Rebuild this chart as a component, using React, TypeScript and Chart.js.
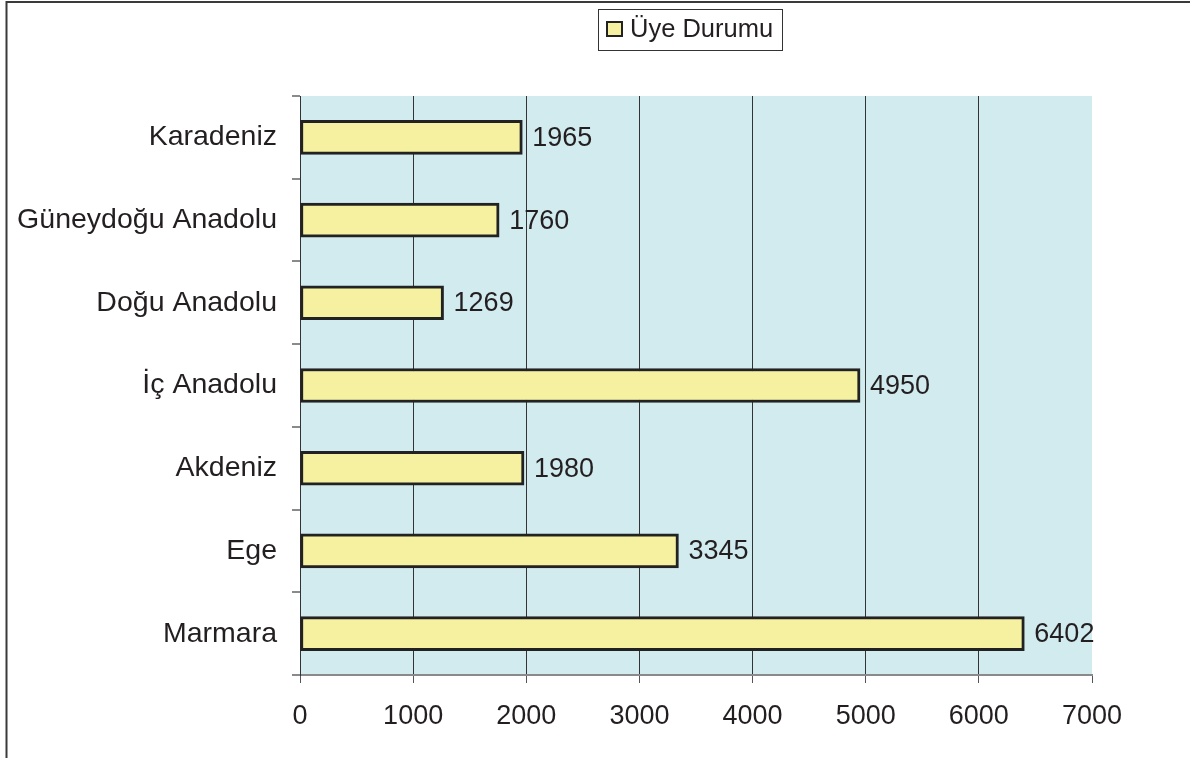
import React, { useEffect, useRef } from "react";
import { Chart, registerables } from "chart.js";

Chart.register(...registerables);

const categories = [
  "Karadeniz",
  "Güneydoğu Anadolu",
  "Doğu Anadolu",
  "İç Anadolu",
  "Akdeniz",
  "Ege",
  "Marmara",
];
const values = [1965, 1760, 1269, 4950, 1980, 3345, 6402];
const seriesName = "Üye Durumu";
const xTicks = [0, 1000, 2000, 3000, 4000, 5000, 6000, 7000];

const FONT = "'Liberation Sans', Arial, Helvetica, sans-serif";
const TEXT = "#231F20";
const BAR_FILL = "#F5F1A0";
const BAR_EDGE = "#222222";
const PLOT_BG = "#D2EBEF";

export default function App() {
  const ref = useRef<HTMLCanvasElement | null>(null);

  useEffect(() => {
    const canvas = ref.current;
    if (!canvas) return;

    const framePlugin = {
      id: "frameAndBg",
      beforeDraw(chart: any) {
        const { ctx, chartArea } = chart;
        ctx.save();
        ctx.fillStyle = "#ffffff";
        ctx.fillRect(0, 0, chart.width, chart.height);
        ctx.fillStyle = PLOT_BG;
        ctx.fillRect(
          chartArea.left,
          chartArea.top,
          chartArea.right - chartArea.left,
          chartArea.bottom - chartArea.top
        );
        ctx.strokeStyle = "#3a3a3a";
        ctx.lineWidth = 2;
        ctx.beginPath();
        ctx.moveTo(1190, 2);
        ctx.lineTo(6.5, 2);
        ctx.lineTo(6.5, 758);
        ctx.stroke();
        ctx.restore();
      },
    };

    const labelPlugin = {
      id: "valueLabels",
      afterDatasetsDraw(chart: any) {
        const { ctx } = chart;
        const meta = chart.getDatasetMeta(0);
        ctx.save();
        ctx.font = `27px ${FONT}`;
        ctx.fillStyle = TEXT;
        ctx.textAlign = "left";
        ctx.textBaseline = "middle";
        meta.data.forEach((el: any, i: number) => {
          ctx.fillText(String(values[i]), el.x + 10, el.y + 1);
        });
        ctx.restore();
      },
    };

    const legendPlugin = {
      id: "boxLegend",
      afterDraw(chart: any) {
        const { ctx } = chart;
        ctx.save();
        ctx.fillStyle = "#ffffff";
        ctx.fillRect(598, 9, 184, 41);
        ctx.strokeStyle = "#333333";
        ctx.lineWidth = 1;
        ctx.strokeRect(598.5, 9.5, 184, 41);
        ctx.fillStyle = BAR_FILL;
        ctx.fillRect(607, 22, 15, 14);
        ctx.strokeStyle = BAR_EDGE;
        ctx.lineWidth = 2;
        ctx.strokeRect(607, 22, 15, 14);
        ctx.font = `25.5px ${FONT}`;
        ctx.fillStyle = TEXT;
        ctx.textAlign = "left";
        ctx.textBaseline = "middle";
        ctx.fillText(seriesName, 630, 30);
        ctx.restore();
      },
    };

    const chart = new Chart(canvas, {
      type: "bar",
      data: {
        labels: categories,
        datasets: [
          {
            label: seriesName,
            data: values,
            backgroundColor: BAR_FILL,
            borderColor: BAR_EDGE,
            borderWidth: 3,
            borderSkipped: false,
            barThickness: 34,
          },
        ],
      },
      options: {
        indexAxis: "y",
        responsive: false,
        animation: false,
        layout: { padding: { top: 96, right: 98, left: 0, bottom: 0 } },
        plugins: {
          legend: { display: false },
          tooltip: { enabled: false },
          title: { display: false },
        },
        scales: {
          x: {
            type: "linear",
            min: 0,
            max: 7000,
            afterBuildTicks(scale: any) {
              scale.ticks = xTicks.map((v) => ({ value: v }));
            },
            afterFit(scale: any) {
              scale.height = 83;
            },
            ticks: {
              font: { family: FONT, size: 27 },
              color: TEXT,
              padding: 17,
              callback: (v: any) => String(v),
            },
            grid: {
              display: true,
              drawOnChartArea: true,
              drawTicks: true,
              tickLength: 8,
              color: (c: any) =>
                c.tick && c.tick.value === 7000 ? "rgba(0,0,0,0)" : "#333333",
              tickColor: "#555555",
              lineWidth: 1,
            },
            border: { display: true, color: "#8a8a8a", width: 2 },
          },
          y: {
            type: "category",
            afterFit(scale: any) {
              scale.width = 300;
            },
            ticks: {
              font: { family: FONT, size: 28.5 },
              color: TEXT,
              padding: 15,
            },
            grid: {
              display: true,
              drawOnChartArea: false,
              drawTicks: true,
              tickLength: 8,
              tickColor: "#8a8a8a",
              offset: true,
              lineWidth: 2,
            },
            border: { display: true, color: "#333333", width: 1 },
          },
        },
      },
      plugins: [framePlugin, labelPlugin, legendPlugin],
    } as any);

    return () => chart.destroy();
  }, []);

  return (
    <div style={{ position: "absolute", left: 0, top: 0, width: 1190, height: 758 }}>
      <canvas ref={ref} width={1190} height={758} style={{ display: "block" }} />
    </div>
  );
}
